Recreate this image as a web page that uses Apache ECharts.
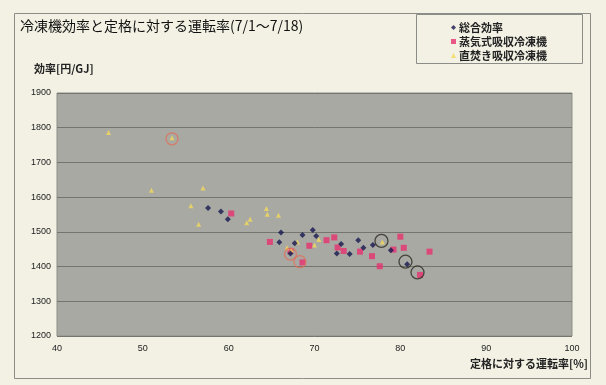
<!DOCTYPE html>
<html><head><meta charset="utf-8">
<script src="https://cdn.jsdelivr.net/npm/echarts@6/dist/echarts.min.js"></script>
<style>html,body{margin:0;padding:0;background:#f3f1e4;}#c{width:606px;height:385px;}</style>
</head><body><div id="c"></div>
<script>
// ---- data ----
const titleText = '冷凍機効率と定格に対する運転率(7/1～7/18)';
const yName = '効率[円/GJ]';
const xName = '定格に対する運転率[%]';
const seriesNames = ['総合効率', '蒸気式吸収冷凍機', '直焚き吸収冷凍機'];
const xTicks = [40, 50, 60, 70, 80, 90, 100];
const yTicks = [1200, 1300, 1400, 1500, 1600, 1700, 1800, 1900];

const totalEff = [
  [57.6,1569],[59.1,1559],[59.9,1536],[66.1,1498],[65.9,1470],[68.6,1491],
  [69.8,1505],[70.2,1488],[67.7,1467],[67.2,1438],[73.1,1465],[72.6,1438],
  [74.1,1436],[75.1,1476],[75.7,1454],[76.8,1462],[78.9,1447],[80.8,1407]
];
const steamAbs = [
  [60.3,1553],[64.8,1471],[67.2,1445],[68.6,1412],[69.4,1460],[71.4,1476],
  [72.3,1484],[72.7,1455],[73.4,1445],[75.3,1443],[76.7,1430],[77.6,1401],
  [80.0,1486],[80.4,1454],[79.2,1449],[83.4,1443],[82.3,1376]
];
const directAbs = [
  [46.0,1786],[53.4,1771],[51.0,1620],[57.0,1626],[55.6,1575],[56.5,1522],
  [64.4,1567],[64.5,1551],[65.8,1548],[62.5,1536],[62.1,1526],[68.0,1471],
  [66.8,1454],[67.3,1447],[70.5,1478],[70.0,1462],[77.9,1471]
];
const orangeCircles = [[53.4,1768],[67.2,1436],[68.3,1414]];
const blackCircles = [[77.8,1474],[80.6,1414],[82.0,1383]];

// ---- chart ----
const chart = echarts.init(document.getElementById('c'));
const jp = '"Noto Sans CJK JP", sans-serif';
const narrow = '"Liberation Sans Narrow", "Liberation Sans", Arial, sans-serif';
chart.setOption({
  backgroundColor: '#f3f1e4',
  animation: false,
  title: {
    text: titleText, left: 15, top: 14,
    textStyle: {fontFamily: jp, fontSize: 14, fontWeight: 'normal', color: '#111'}
  },
  graphic: [
    {type: 'rect', shape: {x: 14.5, y: 13.5, width: 576, height: 365}, style: {fill: 'none', stroke: '#8c8c88', lineWidth: 1}, z: -1},
    {type: 'rect', shape: {x: 416.5, y: 14.5, width: 166, height: 49}, style: {fill: '#f3f1e4', stroke: '#8c8c88', lineWidth: 1}, z: 1},
    {type: 'text', left: 34, top: 63, style: {text: yName, font: 'bold 11px ' + jp, fill: '#222'}},
    {type: 'text', right: 18, top: 358, style: {text: xName, font: 'bold 11px ' + jp, fill: '#222'}}
  ],
  legend: {
    orient: 'vertical', left: 446, top: 17, itemGap: 3,
    itemWidth: 5, itemHeight: 5, z: 5,
    data: [
      {name: seriesNames[0], icon: 'diamond'},
      {name: seriesNames[1], icon: 'rect'},
      {name: seriesNames[2], icon: 'triangle'}
    ],
    textStyle: {fontFamily: jp, fontSize: 11, fontWeight: 'bold', color: '#222', padding: [0, 0, 0, -2]}
  },
  grid: {left: 57, right: 34, top: 93, bottom: 49, show: true, backgroundColor: '#a9a9a3', borderColor: '#8f8f89', borderWidth: 1},
  xAxis: {
    type: 'value', min: 40, max: 100, interval: 10,
    axisLine: {show: false}, axisTick: {show: false}, splitLine: {show: false},
    axisLabel: {fontFamily: narrow, fontSize: 9, color: '#222', margin: 8,
      formatter: v => xTicks.includes(v) ? String(v) : ''}
  },
  yAxis: {
    type: 'value', min: 1200, max: 1900, interval: 100,
    axisLine: {show: false}, axisTick: {show: false},
    splitLine: {show: true, lineStyle: {color: '#75756f', width: 1}},
    axisLabel: {fontFamily: narrow, fontSize: 9, color: '#222', margin: 6,
      formatter: v => yTicks.includes(v) ? String(v) : ''}
  },
  series: [
    {name: seriesNames[0], type: 'scatter', data: totalEff, symbol: 'diamond', symbolSize: 6, itemStyle: {color: '#16184f'}, z: 4},
    {name: seriesNames[1], type: 'scatter', data: steamAbs, symbol: 'rect', symbolSize: 6, itemStyle: {color: '#e6316e'}, z: 3},
    {name: seriesNames[2], type: 'scatter', data: directAbs, symbol: 'triangle', symbolSize: 5, itemStyle: {color: '#f2da5c'}, z: 3},
    {name: 'oc', type: 'scatter', data: orangeCircles, symbol: 'circle', symbolSize: 12, silent: true,
      itemStyle: {color: 'rgba(0,0,0,0)', borderColor: '#e0705a', borderWidth: 1.3}, z: 5},
    {name: 'bc', type: 'scatter', data: blackCircles, symbol: 'circle', symbolSize: 13, silent: true,
      itemStyle: {color: 'rgba(0,0,0,0)', borderColor: '#2a2a22', borderWidth: 1.3}, z: 5}
  ]
});
</script>
</body></html>
